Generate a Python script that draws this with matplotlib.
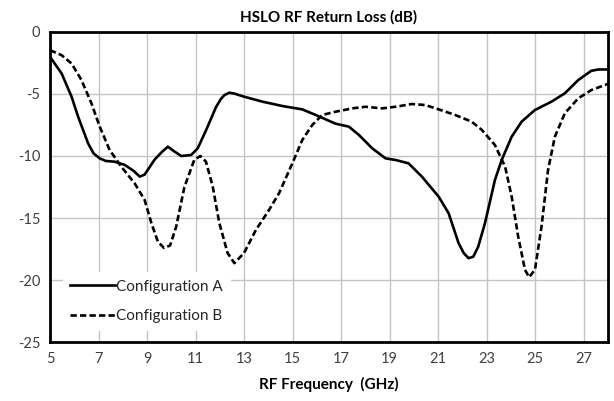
import matplotlib.pyplot as plt

plt.rcParams["font.family"] = ["Lato", "DejaVu Sans"]
plt.rcParams["axes.unicode_minus"] = False

# Configuration A (solid)
freq_a = [5.0, 5.48, 5.89, 6.16, 6.57, 6.8, 7.05, 7.3, 7.67, 8.08, 8.45, 8.70,
          8.9, 9.31, 9.6, 9.86, 10.1, 10.41, 10.82, 11.09, 11.44, 11.85, 12.05,
          12.19, 12.39, 12.6, 13.0, 13.76, 14.58, 15.4, 15.95, 16.36, 16.77,
          17.32, 17.73, 18.28, 18.83, 19.24, 19.78, 20.33, 21.02, 21.43, 21.84,
          22.05, 22.25, 22.45, 22.65, 22.93, 23.34, 23.62, 24.03, 24.44, 24.99,
          25.67, 26.22, 26.77, 27.31, 27.6, 28.0]
loss_a = [-2.02, -3.36, -5.23, -6.84, -8.98, -9.8, -10.19, -10.4, -10.46,
          -10.72, -11.2, -11.66, -11.5, -10.3, -9.7, -9.25, -9.6, -10.0, -9.92,
          -9.38, -7.9, -6.04, -5.4, -5.1, -4.91, -4.98, -5.23, -5.63, -5.98,
          -6.25, -6.7, -7.05, -7.4, -7.64, -8.3, -9.38, -10.19, -10.32, -10.59,
          -11.66, -13.27, -14.6, -17.0, -17.8, -18.22, -18.1, -17.3, -15.4,
          -11.93, -10.32, -8.45, -7.24, -6.3, -5.63, -4.96, -3.9, -3.15, -3.04,
          -3.04]

# Configuration B (dashed)
freq_b = [5.0, 5.48, 5.89, 6.3, 6.71, 7.05, 7.46, 7.94, 8.49, 8.9, 9.18, 9.45,
          9.70, 9.95, 10.2, 10.54, 10.95, 11.2, 11.43, 11.71, 11.98, 12.32,
          12.6, 13.0, 13.49, 14.03, 14.44, 14.99, 15.4, 15.81, 16.22, 16.77,
          17.46, 18.0, 18.69, 19.24, 19.92, 20.47, 21.02, 21.7, 22.38, 22.8,
          23.34, 23.76, 24.03, 24.3, 24.58, 24.75, 24.99, 25.26, 25.53, 25.81,
          26.22, 26.77, 27.31, 27.86, 28.0]
loss_b = [-1.49, -1.89, -2.56, -3.9, -5.77, -7.64, -9.52, -10.86, -12.2, -13.53,
          -15.4, -16.9, -17.4, -17.2, -15.7, -12.5, -10.3, -10.0, -10.46,
          -12.47, -15.4, -17.8, -18.62, -17.8, -15.94, -14.34, -13.0, -10.59,
          -8.71, -7.51, -6.7, -6.44, -6.17, -6.04, -6.17, -6.04, -5.82, -5.9,
          -6.25, -6.7, -7.24, -7.9, -9.12, -10.86, -13.27, -16.5, -19.16,
          -19.75, -19.16, -15.68, -11.12, -8.45, -6.57, -5.37, -4.7, -4.3, -4.2]

xticks = list(range(5, 28, 2))
yticks = [0, -5, -10, -15, -20, -25]

fig = plt.figure(figsize=(6.14, 4.01), dpi=100)
ax = fig.add_axes([0.0814, 0.146, 0.9088, 0.775])

ax.plot(freq_a, loss_a, color="black", lw=1.9, label="Configuration A")
ax.plot(freq_b, loss_b, color="black", lw=1.9, linestyle=(0, (2.4, 1.2)),
        label="Configuration B")

ax.set_xlim(5, 28)
ax.set_ylim(-25, 0)
ax.set_xticks(xticks)
ax.set_yticks(yticks)
ax.grid(True, color="#c4c4c4", lw=1.0)
ax.set_axisbelow(True)
ax.tick_params(length=0, labelsize=10.5, colors="#404040", pad=7)
for s in ax.spines.values():
    s.set_linewidth(2.0)
    s.set_color("black")

ax.set_title("HSLO RF Return Loss (dB)", fontsize=11, fontweight="bold", pad=7)
ax.set_xlabel("RF Frequency  (GHz)", fontsize=11, fontweight="bold", labelpad=8)

leg = ax.legend(loc="center left", bbox_to_anchor=(0.009, 0.132), fontsize=11,
                handlelength=2.9, handletextpad=0.1, labelspacing=1.0,
                frameon=True, fancybox=False, borderpad=0.5)
leg.get_frame().set_edgecolor("none")
leg.get_frame().set_facecolor("white")
leg.get_frame().set_alpha(1.0)
for t in leg.get_texts():
    t.set_color("#262626")

fig.savefig("out.png", dpi=100)
